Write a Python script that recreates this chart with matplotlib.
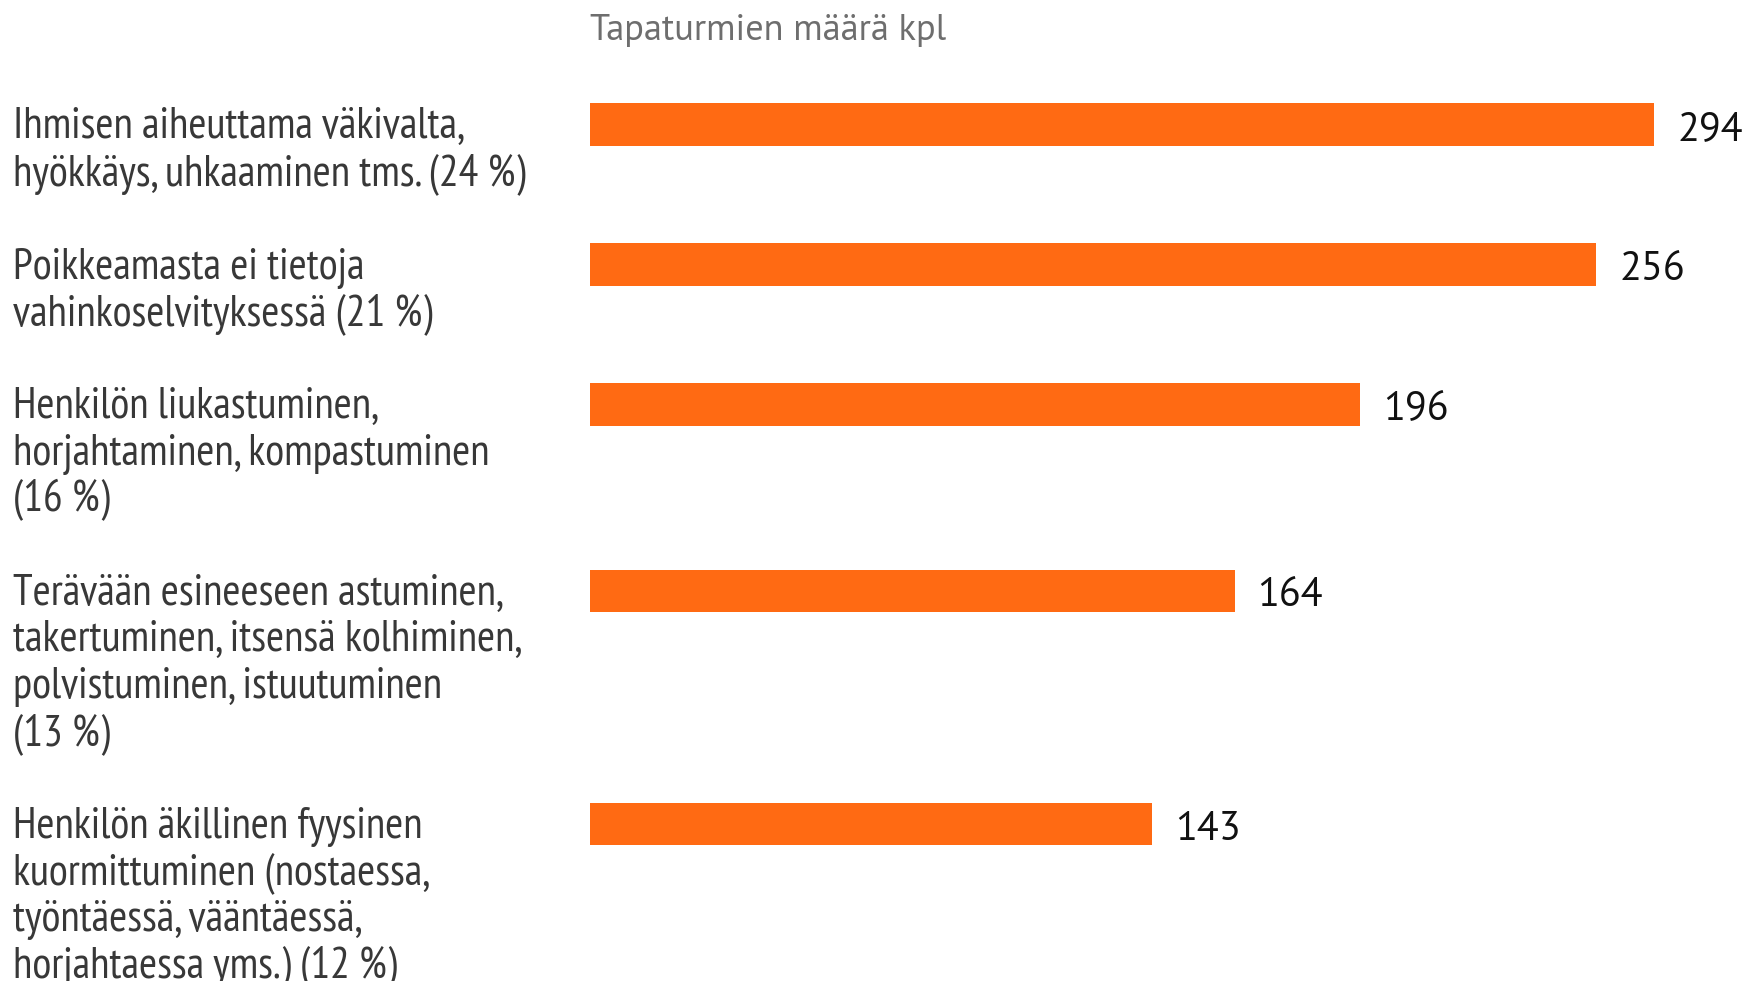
import matplotlib
matplotlib.use('Agg')
import matplotlib.pyplot as plt
from matplotlib.transforms import blended_transform_factory


CATEGORIES = [
    'Ihmisen aiheuttama väkivalta,\nhyökkäys, uhkaaminen tms. (24 %)',
    'Poikkeamasta ei tietoja\nvahinkoselvityksessä (21 %)',
    'Henkilön liukastuminen,\nhorjahtaminen, kompastuminen\n(16 %)',
    'Terävään esineeseen astuminen,\ntakertuminen, itsensä kolhiminen,\npolvistuminen, istuutuminen\n(13 %)',
    'Henkilön äkillinen fyysinen\nkuormittuminen (nostaessa,\ntyöntäessä, vääntäessä,\nhorjahtaessa yms.) (12 %)',
]
COUNTS = [294, 256, 196, 164, 143]
AXIS_TITLE = 'Tapaturmien määrä kpl'
# the original axis stops short of the largest value, so its bar is cut at the edge
X_MAX = 270.8

ORANGE = '#ff6a13'
LABEL_COLOR = '#383838'
TITLE_COLOR = '#6e6e6e'

W, H = 1747, 981
LINE = 46.65     # px per text line, also the vertical unit of the axes
TOP = 124.5      # px from top to the first bar centre
LABEL_SIZE = 31.5
VALUE_SIZE = 29


def main():
    plt.rcParams['font.family'] = ['PT Sans Narrow', 'DejaVu Sans']
    wide = ['PT Sans', 'DejaVu Sans']

    fig = plt.figure(figsize=(W / 100, H / 100), dpi=100)
    ax = fig.add_axes([590 / W, 0, 1064.4 / W, 1])
    ax.set_xlim(0, X_MAX)
    ax.set_ylim((H - TOP) / LINE, -TOP / LINE)
    ax.axis('off')

    # each category takes its label's line count plus one blank line
    positions = []
    y = 0
    for label in CATEGORIES:
        positions.append(y)
        y += label.count('\n') + 2

    ax.barh(positions, COUNTS, height=42.4 / LINE, color=ORANGE, linewidth=0)

    for p, v in zip(positions, COUNTS):
        ax.annotate(str(v), xy=(min(v, X_MAX), p), xytext=(23, -15.5), textcoords='offset pixels',
                    va='baseline', ha='left', fontsize=VALUE_SIZE, family=wide, color='#111111',
                    annotation_clip=False)

    trans = blended_transform_factory(fig.transFigure, ax.transData)
    for p, label in zip(positions, CATEGORIES):
        for k, line in enumerate(label.split('\n')):
            ax.text(13 / W, p + k + 0.296, line, transform=trans, va='baseline', ha='left',
                    fontsize=LABEL_SIZE, color=LABEL_COLOR)

    fig.text(590 / W, 1 - 40 / H, AXIS_TITLE, va='baseline', ha='left', fontsize=26.2,
             family=wide, color=TITLE_COLOR)

    fig.savefig('out.png', dpi=100)


if __name__ == '__main__':
    main()
